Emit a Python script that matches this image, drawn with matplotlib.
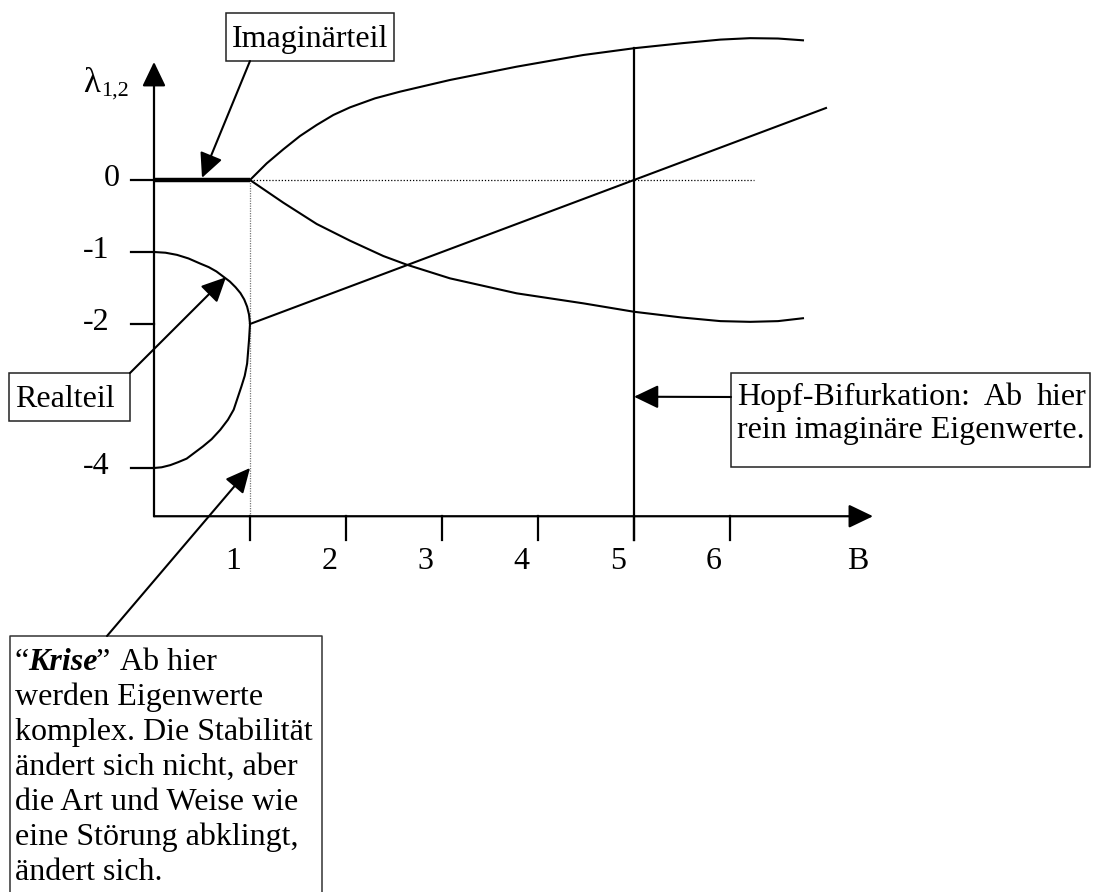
import matplotlib
matplotlib.use("Agg")
import matplotlib.pyplot as plt
from matplotlib import transforms
from matplotlib.patches import Rectangle

plt.rcParams['font.family'] = ['Liberation Serif', 'DejaVu Serif']

# --- data (B on x, lambda on y) ---
imag_upper_x = [1.0, 1.174, 1.347, 1.521, 1.694, 1.868, 2.042, 2.302, 2.563, 3.083,
                3.778, 4.472, 5.0, 5.5, 5.9, 6.21, 6.5, 6.76]
imag_upper_y = [0.0, 0.231, 0.426, 0.611, 0.764, 0.903, 1.009, 1.134, 1.227, 1.389,
                1.574, 1.736, 1.83, 1.9, 1.95, 1.97, 1.965, 1.94]

imag_lower_x = [1.0, 1.347, 1.695, 2.042, 2.389, 2.632, 3.083, 3.778, 4.472, 5.0,
                5.5, 5.9, 6.21, 6.5, 6.76]
imag_lower_y = [0.0, -0.315, -0.611, -0.843, -1.056, -1.176, -1.366, -1.574, -1.713,
                -1.83, -1.91, -1.96, -1.97, -1.96, -1.92]

real_line_x = [1.0, 7.0]
real_line_y = [-2.0, 1.0]

real_loop_x = [0.0, 0.12, 0.24, 0.36, 0.48, 0.57, 0.65, 0.72, 0.79, 0.85, 0.9, 0.94,
               0.97, 0.99, 1.0,
               0.995, 0.99, 0.97, 0.945, 0.91, 0.87, 0.83, 0.77, 0.69, 0.6, 0.51,
               0.42, 0.34, 0.25, 0.17, 0.08, 0.0]
real_loop_y = [-1.0, -1.01, -1.04, -1.09, -1.16, -1.21, -1.27, -1.34, -1.41, -1.49,
               -1.57, -1.66, -1.76, -1.87, -2.0,
               -2.11, -2.22, -2.55, -2.72, -2.87, -3.03, -3.19, -3.33, -3.47, -3.6,
               -3.7, -3.79, -3.87, -3.92, -3.96, -3.99, -4.0]

imag_zero_x = [0.0, 1.0]
imag_zero_y = [0.0, 0.0]

x_ticks = [1, 2, 3, 4, 5, 6]
y_ticks = [0, -1, -2, -4]
y_tick_labels = ['0', '-1', '-2', '-4']
b_crisis = 1.0
b_hopf = 5.0

# --- figure: one axes spanning the whole canvas ---
W, H = 1094, 892
fig = plt.figure(figsize=(W / 100, H / 100), dpi=100)
ax = fig.add_axes([0, 0, 1, 1])
ax.set_xlim(-154 / 96, 940 / 96)
ax.set_ylim((180 - 892) / 72, 180 / 72)
ax.axis('off')

# pixel transform (y down) for annotation boxes / labels
pix = transforms.Affine2D().scale(1 / W, -1 / H).translate(0, 1) + fig.transFigure

FS = 23
axis_y = -4.67
tick_low = -5.0

# axes with arrow heads
head = '-|>,head_length=0.75,head_width=0.36'
ax.annotate('', xy=(0, 1.64), xytext=(0, axis_y),
            arrowprops=dict(arrowstyle=head, mutation_scale=20, lw=1.6,
                            color='k', shrinkA=0, shrinkB=0))
ax.annotate('', xy=(7.49, axis_y), xytext=(0, axis_y),
            arrowprops=dict(arrowstyle=head, mutation_scale=20, lw=1.6,
                            color='k', shrinkA=0, shrinkB=0))

for xt in x_ticks:
    ax.plot([xt, xt], [axis_y, tick_low], color='k', lw=1.6)
    ax.text(xt - 0.17, tick_low - 0.4, str(xt), fontsize=FS, ha='center', va='baseline')
ax.text(7.33, tick_low - 0.4, 'B', fontsize=FS, ha='center', va='baseline')

for yt, lab in zip(y_ticks, y_tick_labels):
    ax.plot([-0.24, 0], [yt, yt], color='k', lw=1.6)
    if lab == '0':
        ax.text(-0.44, yt - 0.08, lab, fontsize=FS, ha='center', va='baseline')
    else:
        ax.text(-0.74, yt - 0.08, lab, fontsize=FS, ha='left', va='baseline')

ax.text(83, 92, 'λ', transform=pix, fontsize=25, ha='left', va='baseline')
ax.text(101, 96, '1,2', transform=pix, fontsize=16, ha='left', va='baseline')

# guides
ax.plot([b_crisis, 6.25], [0, 0], color='k', lw=0.9, ls=(0, (1, 1.5)))
ax.plot([b_crisis, b_crisis], [0, axis_y], color='#777777', lw=0.9, ls=(0, (1, 1)))

# curves
ax.plot(imag_zero_x, imag_zero_y, color='k', lw=3.2, solid_capstyle='butt')
ax.plot(imag_upper_x, imag_upper_y, color='k', lw=1.5)
ax.plot(imag_lower_x, imag_lower_y, color='k', lw=1.5)
ax.plot(real_line_x, real_line_y, color='k', lw=1.5)
ax.plot(real_loop_x, real_loop_y, color='k', lw=1.5)
ax.plot([b_hopf, b_hopf], [imag_upper_y[imag_upper_x.index(b_hopf)], tick_low],
        color='k', lw=1.6)

# annotation boxes
def box(x0, y0, x1, y1, open_bottom=False):
    if open_bottom:
        ax.plot([x0, x0, x1, x1], [y1, y0, y0, y1], transform=pix,
                color='#333333', lw=1.1)
    else:
        ax.add_patch(Rectangle((x0, y0), x1 - x0, y1 - y0, transform=pix,
                               fill=False, ec='#222222', lw=1.1))

arrow = dict(arrowstyle=head, mutation_scale=20, lw=1.5, color='k',
             shrinkA=0, shrinkB=0)

box(226, 13, 394, 61)
ax.text(232, 47, 'Imaginärteil', transform=pix, fontsize=FS, va='baseline')
ax.annotate('', xy=(0.5, 0.03), xytext=(250, 61), textcoords=pix, arrowprops=arrow)

box(9, 373, 130, 421)
ax.text(15, 407, 'Realteil', transform=pix, fontsize=FS, va='baseline')
ax.annotate('', xy=(0.75, -1.35), xytext=(130, 373), textcoords=pix, arrowprops=arrow)

box(731, 373, 1090, 467)
ax.text(737, 405, 'Hopf-Bifurkation:', transform=pix, fontsize=FS, va='baseline')
ax.text(984, 405, 'Ab', transform=pix, fontsize=FS, va='baseline')
ax.text(1086, 405, 'hier', transform=pix, fontsize=FS, va='baseline', ha='right')
ax.text(737, 438, 'rein imaginäre Eigenwerte.', transform=pix, fontsize=FS, va='baseline')
ax.annotate('', xy=(b_hopf, -3.01), xytext=(731, 397), textcoords=pix, arrowprops=arrow)

box(10, 636, 322, 900, open_bottom=True)
ax.text(15, 670, '“', transform=pix, fontsize=FS, va='baseline')
ax.text(28, 670, 'Krise', transform=pix, fontsize=FS, va='baseline',
        fontweight='bold', fontstyle='italic')
ax.text(96, 670, '”', transform=pix, fontsize=FS, va='baseline')
ax.text(120, 670, 'Ab hier', transform=pix, fontsize=FS, va='baseline')
krise_lines = ['werden Eigenwerte', 'komplex. Die Stabilität', 'ändert sich nicht, aber',
               'die Art und Weise wie', 'eine Störung abklingt,', 'ändert sich.']
for i, line in enumerate(krise_lines):
    ax.text(15, 705 + 35 * i, line, transform=pix, fontsize=FS, va='baseline')
ax.annotate('', xy=(b_crisis, -4.0), xytext=(107, 636), textcoords=pix, arrowprops=arrow)

fig.savefig('out.png', dpi=100)
